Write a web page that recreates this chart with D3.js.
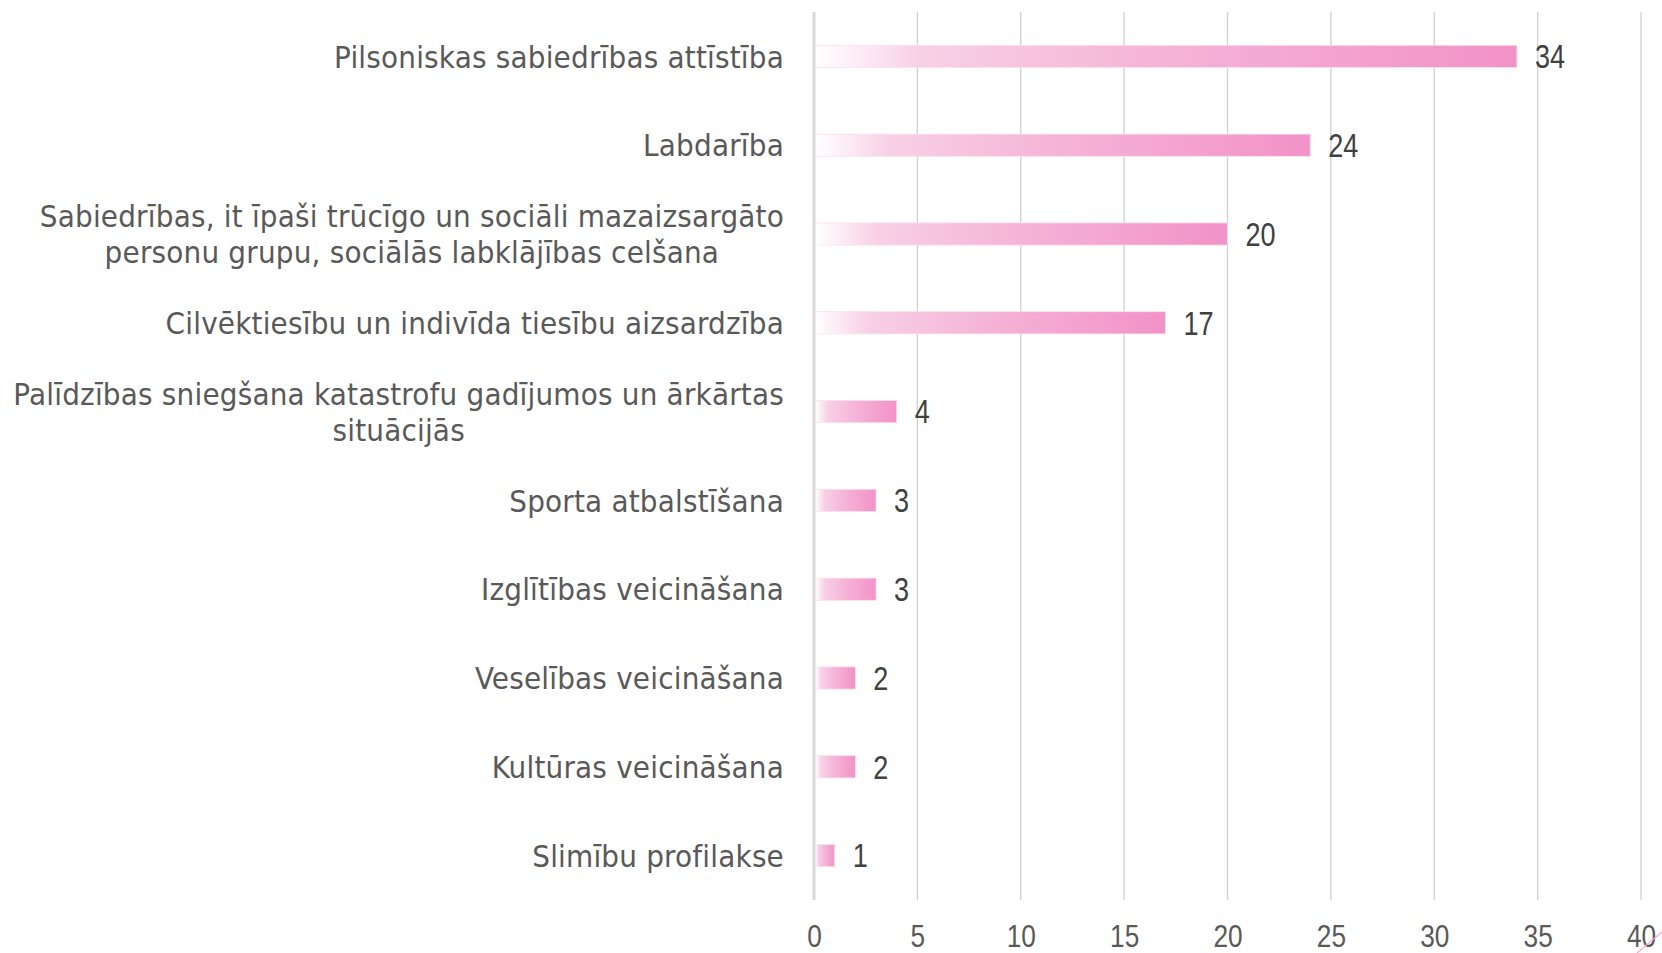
<!DOCTYPE html>
<html>
<head>
<meta charset="utf-8">
<script src="https://cdn.jsdelivr.net/npm/d3@7"></script>
<style>
  html, body { margin: 0; padding: 0; background: #ffffff; }
  svg { display: block; }
</style>
</head>
<body>
<svg id="chart" width="1662" height="953"></svg>
<script>
const categories = [
  ["Pilsoniskas sabiedrības attīstība"],
  ["Labdarība"],
  ["Sabiedrības, it īpaši trūcīgo un sociāli mazaizsargāto", "personu grupu, sociālās labklājības celšana"],
  ["Cilvēktiesību un indivīda tiesību aizsardzība"],
  ["Palīdzības sniegšana katastrofu gadījumos un ārkārtas", "situācijās"],
  ["Sporta atbalstīšana"],
  ["Izglītības veicināšana"],
  ["Veselības veicināšana"],
  ["Kultūras veicināšana"],
  ["Slimību profilakse"]
];
const values = [34, 24, 20, 17, 4, 3, 3, 2, 2, 1];
const tickValues = [0, 5, 10, 15, 20, 25, 30, 35, 40];

const svg = d3.select("#chart");
const x = d3.scaleLinear().domain([0, 40]).range([814, 1641]);
const y = d3.scaleBand().domain(d3.range(categories.length)).range([12, 900]).paddingInner(0.75).paddingOuter(0.375);

const labelFont = "'DejaVu Sans Condensed', 'DejaVu Sans', sans-serif";
const numFont = "'Liberation Sans', Arial, sans-serif";
const numScale = 0.82;

// gradient defs
const defs = svg.append("defs");
const grad = defs.append("linearGradient").attr("id", "barGrad")
  .attr("x1", "0").attr("x2", "1").attr("y1", "0").attr("y2", "0");
grad.append("stop").attr("offset", "0").attr("stop-color", "#ffffff");
grad.append("stop").attr("offset", "0.15").attr("stop-color", "#f8d0e6");
grad.append("stop").attr("offset", "0.5").attr("stop-color", "#f5b3d7");
grad.append("stop").attr("offset", "1").attr("stop-color", "#f292c7");

// gridlines
svg.append("g").selectAll("line").data(tickValues.filter(d => d > 0)).join("line")
  .attr("x1", d => x(d)).attr("x2", d => x(d))
  .attr("y1", 12).attr("y2", 900)
  .attr("stroke", "#d0d0d0").attr("stroke-width", 1.3);

// axis line at 0
svg.append("line")
  .attr("x1", x(0)).attr("x2", x(0)).attr("y1", 12).attr("y2", 900)
  .attr("stroke", "#d9d9d9").attr("stroke-width", 3);

// bottom axis labels (narrowed digits)
const xAxis = d3.axisBottom(x).tickValues(tickValues).tickSize(0).tickPadding(0);
const gx = svg.append("g").attr("transform", "translate(0,924)").call(xAxis);
gx.select(".domain").remove();
gx.selectAll(".tick text")
  .attr("y", 0)
  .attr("dy", "0.71em")
  .attr("fill", "#595959")
  .attr("transform", `scale(${numScale},1)`)
  .style("font-family", numFont)
  .style("font-size", "32px");

// bars
const bh = y.bandwidth();
const yc = i => y(i) + bh / 2;
svg.append("g").selectAll("rect").data(values).join("rect")
  .attr("x", x(0) + 1.5)
  .attr("y", (d, i) => y(i))
  .attr("width", d => x(d) - x(0) - 1.5)
  .attr("height", bh)
  .attr("fill", "url(#barGrad)")
  .attr("stroke", "#fbe0ef")
  .attr("stroke-width", 0.8);

// value labels
svg.append("g").selectAll("text").data(values).join("text")
  .attr("transform", (d, i) => `translate(${x(d) + 18},${yc(i)}) scale(${numScale},1)`)
  .attr("dy", "0.36em")
  .attr("fill", "#404040")
  .style("font-family", numFont)
  .style("font-size", "33px")
  .text(d => d);

// category labels
const labelRight = 784;
const lineH = 36;
const lg = svg.append("g");
categories.forEach((lines, i) => {
  const cy = yc(i);
  const n = lines.length;
  const texts = lines.map((ln, k) => lg.append("text")
    .attr("y", cy + (k - (n - 1) / 2) * lineH)
    .attr("dy", "0.36em")
    .attr("fill", "#595959")
    .style("font-family", labelFont)
    .style("font-size", "31px")
    .style("letter-spacing", "0.2px")
    .text(ln));
  const widths = texts.map(t => t.node().getComputedTextLength());
  const maxW = d3.max(widths);
  const center = labelRight - maxW / 2;
  texts.forEach(t => t.attr("x", center).attr("text-anchor", "middle"));
});

// small pink mark at bottom-right corner
svg.append("line")
  .attr("x1", 1637).attr("y1", 953).attr("x2", 1662).attr("y2", 932)
  .attr("stroke", "#f4a6d0").attr("stroke-width", 1.2);
</script>
</body>
</html>
